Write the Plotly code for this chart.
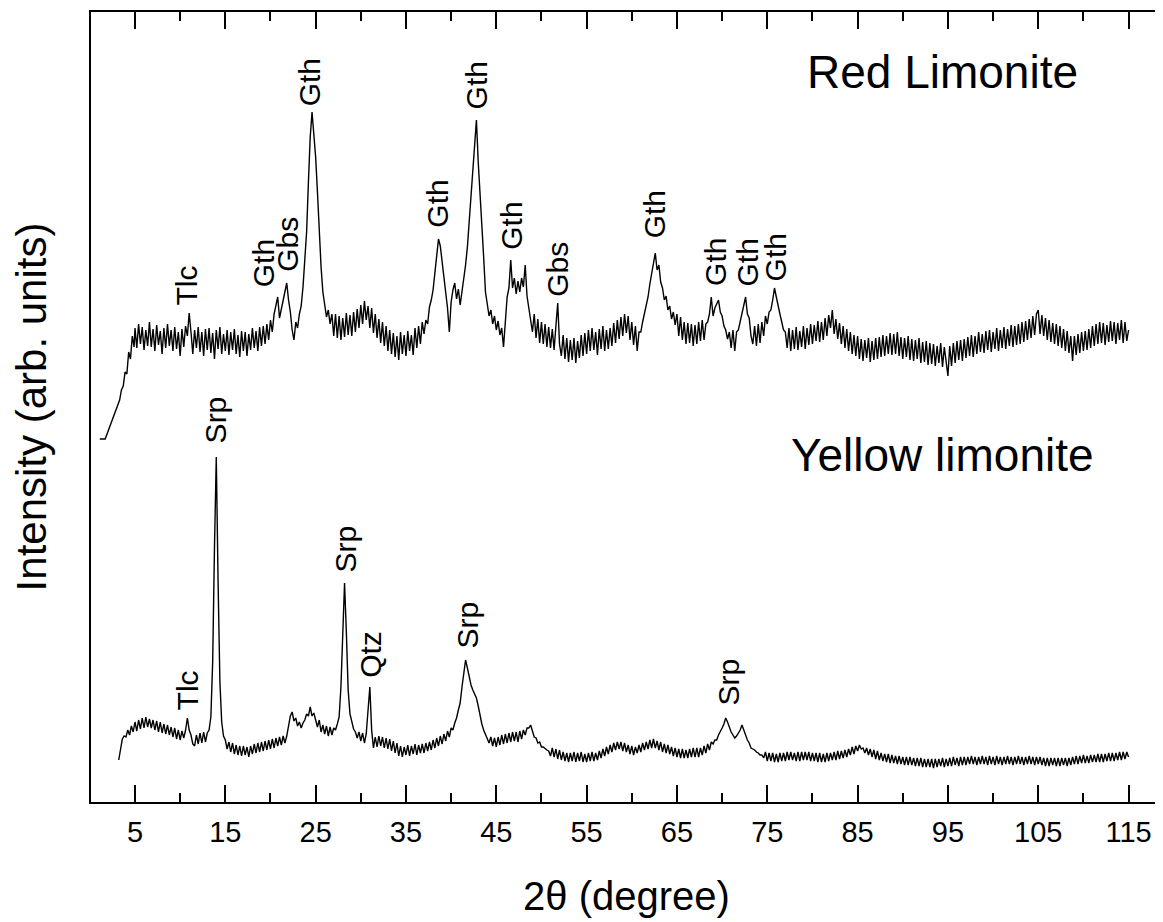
import plotly.graph_objects as go

# ---------------- data ----------------
# common 2-theta scan positions (degrees), 5.0 ... 115.0
scan_2theta = [
    5.0, 5.2, 5.4, 5.6, 5.8, 6.0, 6.2, 6.4, 6.6, 6.8,
    7.0, 7.2, 7.4, 7.6, 7.8, 8.0, 8.2, 8.4, 8.6, 8.8,
    9.0, 9.2, 9.4, 9.6, 9.8, 10.0, 10.2, 10.4, 10.6, 10.8,
    11.0, 11.2, 11.4, 11.6, 11.8, 12.0, 12.2, 12.4, 12.6, 12.8,
    13.0, 13.2, 13.4, 13.6, 13.8, 14.0, 14.2, 14.4, 14.6, 14.8,
    15.0, 15.2, 15.4, 15.6, 15.8, 16.0, 16.2, 16.4, 16.6, 16.8,
    17.0, 17.2, 17.4, 17.6, 17.8, 18.0, 18.2, 18.4, 18.6, 18.8,
    19.0, 19.2, 19.4, 19.6, 19.8, 20.0, 20.2, 20.4, 20.6, 20.8,
    21.0, 21.2, 21.4, 21.6, 21.8, 22.0, 22.2, 22.4, 22.6, 22.8,
    23.0, 23.2, 23.4, 23.6, 23.8, 24.0, 24.2, 24.4, 24.6, 24.8,
    25.0, 25.2, 25.4, 25.6, 25.8, 26.0, 26.2, 26.4, 26.6, 26.8,
    27.0, 27.2, 27.4, 27.6, 27.8, 28.0, 28.2, 28.4, 28.6, 28.8,
    29.0, 29.2, 29.4, 29.6, 29.8, 30.0, 30.2, 30.4, 30.6, 30.8,
    31.0, 31.2, 31.4, 31.6, 31.8, 32.0, 32.2, 32.4, 32.6, 32.8,
    33.0, 33.2, 33.4, 33.6, 33.8, 34.0, 34.2, 34.4, 34.6, 34.8,
    35.0, 35.2, 35.4, 35.6, 35.8, 36.0, 36.2, 36.4, 36.6, 36.8,
    37.0, 37.2, 37.4, 37.6, 37.8, 38.0, 38.2, 38.4, 38.6, 38.8,
    39.0, 39.2, 39.4, 39.6, 39.8, 40.0, 40.2, 40.4, 40.6, 40.8,
    41.0, 41.2, 41.4, 41.6, 41.8, 42.0, 42.2, 42.4, 42.6, 42.8,
    43.0, 43.2, 43.4, 43.6, 43.8, 44.0, 44.2, 44.4, 44.6, 44.8,
    45.0, 45.2, 45.4, 45.6, 45.8, 46.0, 46.2, 46.4, 46.6, 46.8,
    47.0, 47.2, 47.4, 47.6, 47.8, 48.0, 48.2, 48.4, 48.6, 48.8,
    49.0, 49.2, 49.4, 49.6, 49.8, 50.0, 50.2, 50.4, 50.6, 50.8,
    51.0, 51.2, 51.4, 51.6, 51.8, 52.0, 52.2, 52.4, 52.6, 52.8,
    53.0, 53.2, 53.4, 53.6, 53.8, 54.0, 54.2, 54.4, 54.6, 54.8,
    55.0, 55.2, 55.4, 55.6, 55.8, 56.0, 56.2, 56.4, 56.6, 56.8,
    57.0, 57.2, 57.4, 57.6, 57.8, 58.0, 58.2, 58.4, 58.6, 58.8,
    59.0, 59.2, 59.4, 59.6, 59.8, 60.0, 60.2, 60.4, 60.6, 60.8,
    61.0, 61.2, 61.4, 61.6, 61.8, 62.0, 62.2, 62.4, 62.6, 62.8,
    63.0, 63.2, 63.4, 63.6, 63.8, 64.0, 64.2, 64.4, 64.6, 64.8,
    65.0, 65.2, 65.4, 65.6, 65.8, 66.0, 66.2, 66.4, 66.6, 66.8,
    67.0, 67.2, 67.4, 67.6, 67.8, 68.0, 68.2, 68.4, 68.6, 68.8,
    69.0, 69.2, 69.4, 69.6, 69.8, 70.0, 70.2, 70.4, 70.6, 70.8,
    71.0, 71.2, 71.4, 71.6, 71.8, 72.0, 72.2, 72.4, 72.6, 72.8,
    73.0, 73.2, 73.4, 73.6, 73.8, 74.0, 74.2, 74.4, 74.6, 74.8,
    75.0, 75.2, 75.4, 75.6, 75.8, 76.0, 76.2, 76.4, 76.6, 76.8,
    77.0, 77.2, 77.4, 77.6, 77.8, 78.0, 78.2, 78.4, 78.6, 78.8,
    79.0, 79.2, 79.4, 79.6, 79.8, 80.0, 80.2, 80.4, 80.6, 80.8,
    81.0, 81.2, 81.4, 81.6, 81.8, 82.0, 82.2, 82.4, 82.6, 82.8,
    83.0, 83.2, 83.4, 83.6, 83.8, 84.0, 84.2, 84.4, 84.6, 84.8,
    85.0, 85.2, 85.4, 85.6, 85.8, 86.0, 86.2, 86.4, 86.6, 86.8,
    87.0, 87.2, 87.4, 87.6, 87.8, 88.0, 88.2, 88.4, 88.6, 88.8,
    89.0, 89.2, 89.4, 89.6, 89.8, 90.0, 90.2, 90.4, 90.6, 90.8,
    91.0, 91.2, 91.4, 91.6, 91.8, 92.0, 92.2, 92.4, 92.6, 92.8,
    93.0, 93.2, 93.4, 93.6, 93.8, 94.0, 94.2, 94.4, 94.6, 94.8,
    95.0, 95.2, 95.4, 95.6, 95.8, 96.0, 96.2, 96.4, 96.6, 96.8,
    97.0, 97.2, 97.4, 97.6, 97.8, 98.0, 98.2, 98.4, 98.6, 98.8,
    99.0, 99.2, 99.4, 99.6, 99.8, 100.0, 100.2, 100.4, 100.6, 100.8,
    101.0, 101.2, 101.4, 101.6, 101.8, 102.0, 102.2, 102.4, 102.6, 102.8,
    103.0, 103.2, 103.4, 103.6, 103.8, 104.0, 104.2, 104.4, 104.6, 104.8,
    105.0, 105.2, 105.4, 105.6, 105.8, 106.0, 106.2, 106.4, 106.6, 106.8,
    107.0, 107.2, 107.4, 107.6, 107.8, 108.0, 108.2, 108.4, 108.6, 108.8,
    109.0, 109.2, 109.4, 109.6, 109.8, 110.0, 110.2, 110.4, 110.6, 110.8,
    111.0, 111.2, 111.4, 111.6, 111.8, 112.0, 112.2, 112.4, 112.6, 112.8,
    113.0, 113.2, 113.4, 113.6, 113.8, 114.0, 114.2, 114.4, 114.6, 114.8,
    115.0]

# Red limonite: low-angle start, then intensity on the common scan
red_start_2theta = [1.1, 1.7, 3.3, 3.5, 3.7, 3.9, 4.1, 4.3, 4.5, 4.7, 4.9]
red_start_intensity = [363, 363, 402, 412, 416, 430, 428, 450, 443, 466, 455]
red_scan_intensity = [
    474, 454, 478, 458, 475, 452, 472, 456, 480, 455,
    473, 451, 477, 457, 471, 448, 474, 454, 478, 456,
    472, 451, 475, 453, 470, 446, 473, 455, 476, 466,
    489, 470, 448, 472, 454, 475, 450, 470, 446, 473,
    452, 474, 449, 469, 443, 472, 453, 475, 448, 468,
    451, 472, 447, 470, 452, 473, 448, 467, 445, 471,
    451, 470, 446, 468, 452, 474, 454, 471, 451, 475,
    456, 476, 458, 478, 462, 482, 470, 488, 498, 505,
    484, 492, 500, 508, 519, 502, 490, 472, 462, 480,
    474, 488, 496, 515, 545, 570, 620, 665, 690, 668,
    645, 610, 570, 535, 510, 495, 485, 492, 478, 488,
    466, 488, 464, 486, 462, 484, 465, 489, 467, 487,
    466, 490, 470, 493, 474, 497, 478, 501, 482, 496,
    474, 494, 469, 488, 464, 483, 459, 480, 456, 476,
    451, 472, 448, 469, 445, 466, 442, 470, 448, 467,
    446, 471, 451, 467, 447, 474, 454, 476, 458, 480,
    468, 482, 478, 495, 502, 512, 530, 548, 563, 556,
    540, 522, 506, 494, 470, 500, 512, 519, 503, 513,
    497, 510, 522, 537, 555, 580, 602, 625, 652, 682,
    640, 610, 585, 545, 510, 498, 486, 492, 478, 486,
    472, 481, 467, 474, 455, 480, 505, 514, 542, 514,
    524, 508, 521, 510, 524, 515, 537, 506, 494, 484,
    470, 488, 464, 483, 459, 480, 458, 478, 455, 475,
    454, 473, 452, 476, 499, 458, 446, 467, 443, 464,
    440, 462, 442, 464, 439, 461, 444, 467, 446, 469,
    448, 472, 451, 474, 452, 470, 447, 473, 453, 476,
    451, 472, 453, 474, 456, 479, 459, 482, 463, 485,
    466, 488, 469, 486, 462, 480, 457, 476, 451, 470,
    470, 480, 488, 498, 505, 518, 528, 540, 549, 532,
    537, 520, 514, 502, 506, 492, 496, 483, 490, 477,
    488, 466, 485, 462, 480, 458, 479, 459, 478, 456,
    477, 458, 480, 461, 482, 462, 478, 480, 488, 505,
    486, 494, 498, 502, 490, 486, 476, 472, 463, 470,
    454, 472, 451, 470, 472, 480, 490, 496, 505, 488,
    484, 466, 458, 476, 456, 478, 459, 480, 466, 486,
    478, 490, 492, 502, 514, 505, 495, 488, 480, 472,
    470, 454, 474, 451, 472, 453, 475, 452, 471, 455,
    476, 453, 474, 457, 478, 458, 477, 461, 481, 460,
    480, 462, 484, 466, 487, 474, 492, 468, 483, 463,
    479, 458, 476, 454, 473, 451, 470, 448, 467, 446,
    466, 443, 463, 441, 462, 444, 464, 440, 461, 442,
    464, 443, 465, 445, 467, 446, 466, 448, 469, 447,
    468, 448, 470, 446, 465, 443, 464, 445, 466, 442,
    463, 441, 462, 443, 464, 439, 460, 440, 461, 437,
    459, 438, 458, 436, 456, 439, 459, 435, 455, 437,
    426, 456, 436, 459, 439, 461, 442, 462, 441, 463,
    444, 465, 446, 467, 445, 466, 448, 470, 450, 468,
    449, 471, 452, 472, 450, 470, 453, 474, 451, 472,
    454, 475, 453, 473, 456, 477, 455, 476, 457, 478,
    458, 480, 460, 481, 462, 483, 464, 486, 467, 488,
    492, 468, 487, 466, 484, 462, 482, 460, 479, 458,
    478, 456, 476, 454, 473, 451, 471, 449, 466, 441,
    466, 447, 468, 449, 470, 451, 471, 452, 473, 454,
    476, 456, 478, 458, 480, 459, 479, 457, 477, 460,
    481, 461, 480, 458, 479, 462, 482, 459, 480, 461,
    472]

# Yellow limonite
yellow_start_2theta = [3.2, 3.4, 3.6, 3.8, 4.0, 4.2, 4.4, 4.6, 4.8]
yellow_start_intensity = [42, 55, 63, 66, 65, 72, 67, 76, 70]
yellow_scan_intensity = [
    80, 71, 82, 73, 84, 74, 85, 75, 83, 74,
    82, 72, 81, 70, 80, 69, 78, 68, 77, 67,
    75, 65, 74, 63, 72, 62, 71, 64, 72, 84,
    72, 67, 58, 56, 67, 58, 69, 59, 70, 60,
    69, 72, 85, 140, 255, 345, 220, 120, 80, 66,
    62, 53, 60, 50, 59, 48, 57, 47, 56, 46,
    56, 47, 55, 45, 56, 48, 58, 49, 59, 50,
    60, 51, 61, 52, 62, 53, 63, 54, 64, 56,
    65, 57, 66, 59, 66, 78, 86, 90, 81, 84,
    76, 80, 74, 79, 82, 88, 86, 95, 86, 89,
    82, 75, 82, 70, 77, 68, 76, 66, 75, 67,
    74, 72, 78, 85, 115, 165, 219, 170, 112, 88,
    80, 73, 70, 64, 70, 61, 69, 59, 68, 90,
    115, 72, 54, 65, 55, 66, 56, 65, 54, 64,
    53, 63, 51, 61, 49, 59, 46, 56, 45, 55,
    47, 57, 46, 56, 48, 58, 47, 57, 49, 58,
    49, 59, 51, 60, 52, 62, 54, 64, 56, 66,
    58, 68, 61, 71, 65, 74, 72, 79, 84, 92,
    99, 115, 128, 142, 134, 125, 117, 112, 107, 104,
    96, 86, 78, 72, 67, 64, 59, 65, 56, 64,
    55, 65, 57, 67, 58, 68, 59, 69, 60, 70,
    61, 70, 60, 71, 63, 72, 67, 74, 74, 77,
    71, 65, 64, 59, 60, 55, 55, 53, 52, 51,
    46, 54, 45, 53, 43, 52, 42, 50, 41, 49,
    40, 49, 41, 50, 40, 49, 41, 50, 40, 48,
    40, 49, 41, 50, 41, 49, 42, 51, 44, 53,
    46, 55, 48, 57, 50, 59, 52, 60, 53, 60,
    51, 59, 50, 57, 48, 56, 47, 55, 49, 57,
    50, 59, 52, 60, 53, 62, 54, 63, 54, 61,
    52, 60, 50, 58, 49, 57, 48, 55, 46, 54,
    45, 53, 44, 53, 44, 52, 44, 53, 45, 54,
    45, 54, 45, 54, 47, 56, 49, 58, 52, 60,
    58, 62, 62, 67, 70, 74, 78, 84, 80, 74,
    70, 67, 64, 66, 69, 72, 77, 72, 66, 62,
    59, 54, 53, 52, 50, 49, 47, 47, 44, 50,
    41, 49, 41, 49, 40, 48, 40, 49, 41, 49,
    41, 50, 42, 50, 42, 49, 41, 50, 41, 50,
    42, 50, 42, 50, 41, 49, 41, 49, 40, 49,
    40, 48, 40, 49, 41, 49, 42, 50, 42, 51,
    43, 51, 44, 52, 45, 53, 47, 55, 48, 56,
    51, 57, 53, 54, 49, 54, 47, 53, 45, 52,
    43, 51, 42, 49, 41, 48, 40, 48, 39, 47,
    39, 46, 38, 46, 38, 45, 37, 45, 37, 45,
    37, 44, 36, 44, 36, 44, 35, 43, 35, 43,
    35, 43, 34, 43, 35, 43, 36, 44, 35, 43,
    36, 44, 36, 45, 37, 44, 36, 45, 37, 45,
    37, 45, 38, 46, 38, 45, 37, 45, 38, 46,
    38, 45, 37, 46, 38, 45, 37, 46, 38, 45,
    37, 45, 38, 46, 38, 45, 37, 45, 38, 46,
    38, 45, 37, 45, 38, 46, 38, 45, 37, 45,
    38, 45, 37, 44, 36, 44, 36, 44, 37, 44,
    36, 44, 36, 44, 37, 44, 36, 44, 37, 45,
    38, 46, 38, 46, 39, 47, 39, 46, 39, 47,
    40, 47, 40, 48, 40, 48, 40, 48, 41, 49,
    41, 49, 41, 49, 42, 50, 42, 50, 43, 50,
    45]

assert len(red_scan_intensity) == len(scan_2theta), (len(red_scan_intensity), len(scan_2theta))
assert len(yellow_scan_intensity) == len(scan_2theta), (len(yellow_scan_intensity), len(scan_2theta))

red_2theta = red_start_2theta + scan_2theta
red_intensity = red_start_intensity + red_scan_intensity
yellow_2theta = yellow_start_2theta + scan_2theta
yellow_intensity = yellow_start_intensity + yellow_scan_intensity

# peak labels: phase, 2theta, label height
red_labels = ["Tlc", "Gth", "Gbs", "Gth", "Gth", "Gth", "Gth", "Gbs", "Gth", "Gth", "Gth", "Gth"]
red_label_2theta = [10.7, 19.2, 21.8, 24.3, 38.4, 42.8, 46.6, 51.7, 62.5, 69.2, 72.7, 75.9]
red_label_height = [517, 539, 558, 720, 598, 717, 576, 533, 588, 540, 539, 545]

yellow_labels = ["Tlc", "Srp", "Srp", "Qtz", "Srp", "Srp"]
yellow_label_2theta = [10.8, 13.9, 28.3, 31.0, 41.8, 70.6]
yellow_label_height = [112, 382, 253, 148, 177, 120]

x_tick_values = [5, 15, 25, 35, 45, 55, 65, 75, 85, 95, 105, 115]

# ---------------- figure ----------------
FONT = "Liberation Sans, Arial, sans-serif"
fig = go.Figure()
fig.add_trace(go.Scatter(x=red_2theta, y=red_intensity, mode="lines",
                         line=dict(color="black", width=1.4), name="Red Limonite"))
fig.add_trace(go.Scatter(x=yellow_2theta, y=yellow_intensity, mode="lines",
                         line=dict(color="black", width=1.4), name="Yellow limonite"))

for txt, xv, yv in zip(red_labels + yellow_labels,
                       red_label_2theta + yellow_label_2theta,
                       red_label_height + yellow_label_height):
    fig.add_annotation(x=xv, y=yv, text=txt, textangle=-90, showarrow=False,
                       xanchor="center", yanchor="middle",
                       font=dict(family=FONT, size=30, color="black"))

fig.add_annotation(x=94.4, y=730, text="Red Limonite", showarrow=False,
                   xanchor="center", yanchor="middle",
                   font=dict(family=FONT, size=46, color="black"))
fig.add_annotation(x=94.4, y=347, text="Yellow limonite", showarrow=False,
                   xanchor="center", yanchor="middle",
                   font=dict(family=FONT, size=46, color="black"))

# the page body adds an 8 px offset; margins compensate so the frame
# spans x 91..1162 and y 12..802 in the window
fig.update_layout(
    width=1163, height=922,
    margin=dict(l=83, r=9, t=4, b=128),
    paper_bgcolor="white", plot_bgcolor="white",
    showlegend=False,
    font=dict(family=FONT, color="black"),
)
fig.update_xaxes(
    automargin=False,
    range=[0.13, 118.7],
    tickmode="array", tickvals=x_tick_values, ticktext=[str(v) for v in x_tick_values],
    ticks="inside", ticklen=17, tickwidth=2, tickcolor="black",
    minor=dict(ticks="inside", ticklen=9, tickwidth=2, tickcolor="black", tick0=10, dtick=10),
    showline=True, linewidth=2, linecolor="black", mirror="ticks",
    showgrid=False, zeroline=False,
    tickfont=dict(family=FONT, size=29, color="black"),
    ticklabelstandoff=3,
    title=dict(text="2θ (degree)", font=dict(family=FONT, size=40, color="black"), standoff=35),
)
fig.update_yaxes(
    automargin=False,
    range=[0, 790],
    showticklabels=False, ticks="",
    showline=True, linewidth=2, linecolor="black", mirror=True,
    showgrid=False, zeroline=False,
    title=dict(text="Intensity (arb. units)", font=dict(family=FONT, size=42, color="black"), standoff=29),
)

fig.write_html("out.html")
